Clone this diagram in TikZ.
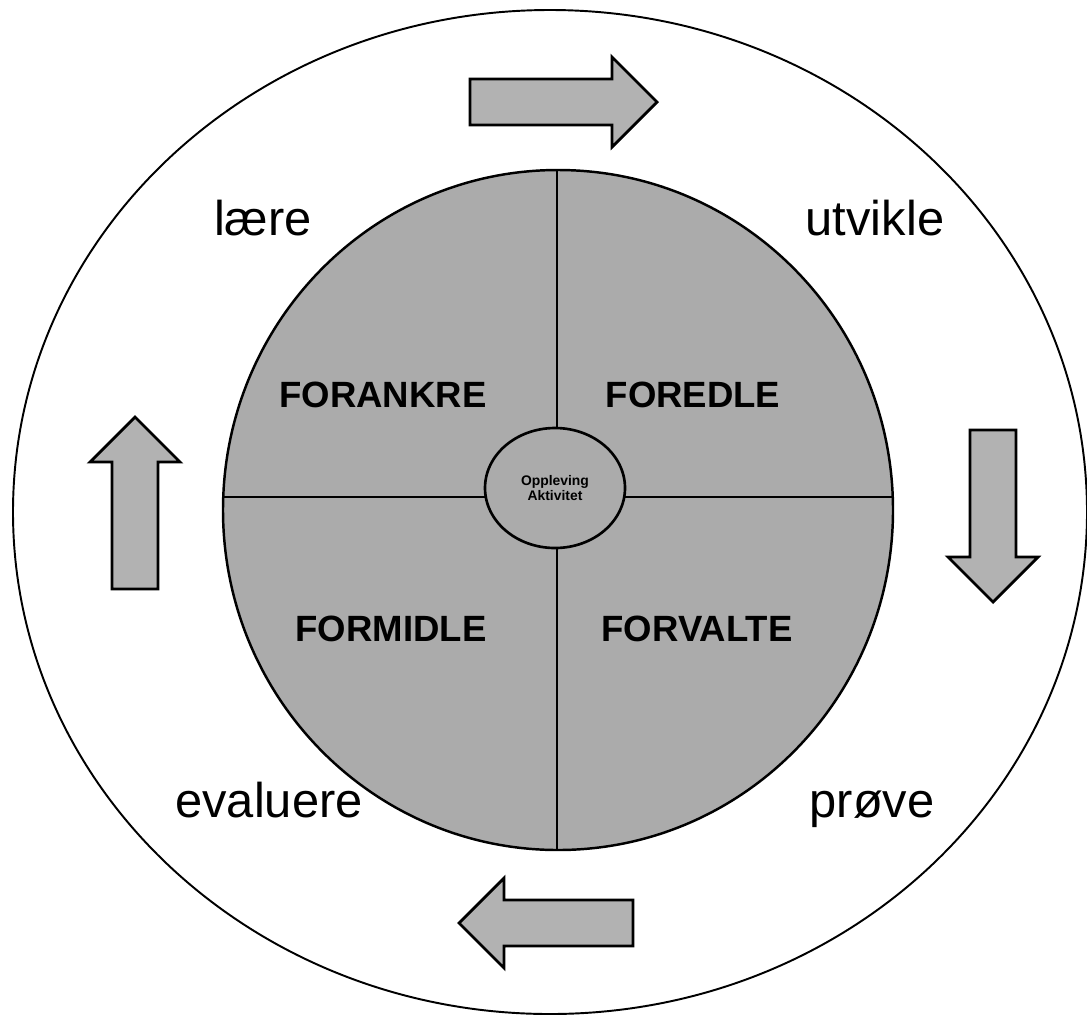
\documentclass[tikz,border=0pt]{standalone}
\usepackage{fontspec}
\setmainfont{Liberation Sans}

\tikzset{pics/turn/.style={code={
  \filldraw[fill=black!30, line width=1.6pt, line join=miter]
    (0,-23) -- (#1-45,-23) -- (#1-45,-45) -- (#1,0) -- (#1-45,45) -- (#1-45,23) -- (0,23) -- cycle;}}}

\begin{document}
\begin{tikzpicture}[x=0.2mm,y=-0.2mm,line width=1.1pt]
  \tikzstyle{phase}=[font=\fontsize{27.8}{30}\selectfont, anchor=base]
  \tikzstyle{quad}=[font=\fontsize{20.8}{24}\selectfont\bfseries]
  \tikzstyle{hubtext}=[font=\fontsize{7.9}{8.4}\selectfont\bfseries, align=center]

  \useasboundingbox (0,0) rectangle (1087,1017);

  \draw (550,512) ellipse [x radius=537, y radius=502];
  \filldraw[fill=black!33, line width=1.4pt] (558,510) ellipse [x radius=335, y radius=340];
  \draw (557,170) -- (557,850);
  \draw (223,497) -- (893,497);
  \filldraw[fill=black!33, line width=1.5pt] (555,488) ellipse [x radius=70, y radius=60];

  \node[hubtext] (hub) at (555,488) {Oppleving\\Aktivitet};

  \node[quad] (forankre) at (383,395) {FORANKRE};
  \node[quad] (foredle) at (693,395) {FOREDLE};
  \node[quad] (formidle) at (391,629) {FORMIDLE};
  \node[quad] (forvalte) at (697,629) {FORVALTE};

  \node[phase] (laere) at (263,235) {lære};
  \node[phase] (utvikle) at (875,235) {utvikle};
  \node[phase] (evaluere) at (269,817) {evaluere};
  \node[phase] (prove) at (872,817) {prøve};

  \foreach \x/\y/\a/\len in {470/102/0/187, 993/430/-90/172, 633/923/180/174, 135/589/90/172} {
    \pic[rotate=\a] at (\x,\y) {turn=\len};
  }
\end{tikzpicture}
\end{document}
